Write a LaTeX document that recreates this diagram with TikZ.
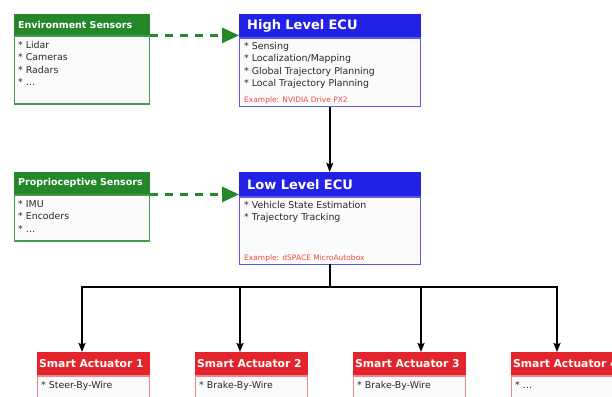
\documentclass[tikz,border=0pt]{standalone}
\usepackage{fontspec}
\setmainfont{DejaVu Sans}
\usetikzlibrary{positioning,arrows.meta}
\definecolor{sensgreen}{RGB}{36,135,42}
\definecolor{ecublue}{RGB}{34,34,230}
\definecolor{actred}{RGB}{228,36,44}
\definecolor{bodybg}{RGB}{251,251,251}
\definecolor{bodytext}{RGB}{40,40,40}
\definecolor{exred}{RGB}{240,70,70}
\newcommand{\itemlist}[3]{\parbox[t][#2pt][s]{#1pt}{\raggedright\vspace*{2pt}#3}}
\newcommand{\example}[1]{\par\vfill{\color{exred}\fontsize{7.5}{8}\selectfont #1}}
\newcommand{\listend}{\endgraf\vfill}
\tikzset{head node/.style={anchor=north west, inner ysep=0pt, text=white, align=left},
  sens head/.style={head node, fill=sensgreen, draw=sensgreen, minimum width=135pt,
    text width=127pt, inner xsep=4pt, font=\bfseries\fontsize{9.5}{11}\selectfont},
  ecu head/.style={head node, fill=ecublue, draw=ecublue, minimum width=181pt,
    text width=165pt, inner xsep=8pt, font=\bfseries\fontsize{13}{15}\selectfont},
  act head/.style={head node, fill=actred, draw=actred, minimum width=112pt, minimum height=23pt,
    text width=108pt, inner xsep=2pt, font=\bfseries\fontsize{10.8}{12}\selectfont},
  body node/.style={fill=bodybg, text=bodytext, inner ysep=3.5pt, line width=1.2pt,
    font=\fontsize{9.4}{12.3}\selectfont},
  sens arrow/.style={sensgreen, line width=2.8pt, dash pattern=on 8pt off 7pt,
    -{Triangle[length=17pt,width=15pt]}},
  ecu arrow/.style={line width=2.4pt, -{Stealth[length=9pt,width=7pt,inset=1.5pt]}},
  bus line/.style={line width=2.4pt, line cap=rect},
}
\begin{document}
\begin{tikzpicture}[x=1pt,y=-1pt]
\useasboundingbox (0,0) rectangle (612,396);
\clip (0,0) rectangle (612,396);
% sensors
\node[sens head, minimum height=21pt] (envh) at (14,14) {Environment Sensors};
\node[body node, draw=sensgreen!85, inner xsep=4pt, below=0pt of envh] (envb)
  {\itemlist{127}{61}{* Lidar\par * Cameras\par * Radars\par * \dots\listend}};
\node[sens head, minimum height=22pt] (proh) at (14,172) {Proprioceptive Sensors};
\node[body node, draw=sensgreen!85, inner xsep=4pt, below=0pt of proh] (prob)
  {\itemlist{127}{39}{* IMU\par * Encoders\par * \dots\listend}};
% ECUs
\node[ecu head, minimum height=23pt] (highh) at (239,14) {High Level ECU};
\node[body node, draw=ecublue!75, inner xsep=5pt, inner ysep=2.5pt, below=0pt of highh] (highb)
  {\itemlist{171}{62}{* Sensing\par * Localization/Mapping\par * Global Trajectory Planning\par * Local Trajectory Planning\example{Example: NVIDIA Drive PX2}}};
\node[ecu head, minimum height=24pt] (lowh) at (239,172) {Low Level ECU};
\node[body node, draw=ecublue!75, inner xsep=5pt, inner ysep=2.5pt, below=0pt of lowh] (lowb)
  {\itemlist{171}{61}{* Vehicle State Estimation\par * Trajectory Tracking\example{Example: dSPACE MicroAutobox}}};
% actuators
\node[act head] (a1h) at (37,352) {Smart Actuator 1};
\node[act head] (a2h) at (195,352) {Smart Actuator 2};
\node[act head] (a3h) at (353,352) {Smart Actuator 3};
\node[act head] (a4h) at (511,352) {Smart Actuator 4};
\foreach \n/\t in {1/Steer-By-Wire,2/Brake-By-Wire,3/Brake-By-Wire,4/\dots}
  \node[body node, draw=actred!55, inner xsep=4pt, below=0pt of a\n h] (a\n b)
    {\itemlist{104}{40}{* \t\listend}};
% connectors
\draw[sens arrow] (envb.north east) -- (envb.north east -| highh.west);
\draw[sens arrow] (prob.north east) -- (prob.north east -| lowh.west);
\draw[ecu arrow] (highb.south) -- (lowh.north);
\foreach \n/\x in {1/82,2/240,3/421,4/557} {
  \coordinate (d\n) at (\x,287);
  \draw[ecu arrow] (d\n) -- (d\n |- a\n h.north);
}
\draw[bus line] (lowb.south) -- (lowb.south |- d1);
\draw[bus line] (d1) -- (d4);
\end{tikzpicture}
\end{document}
